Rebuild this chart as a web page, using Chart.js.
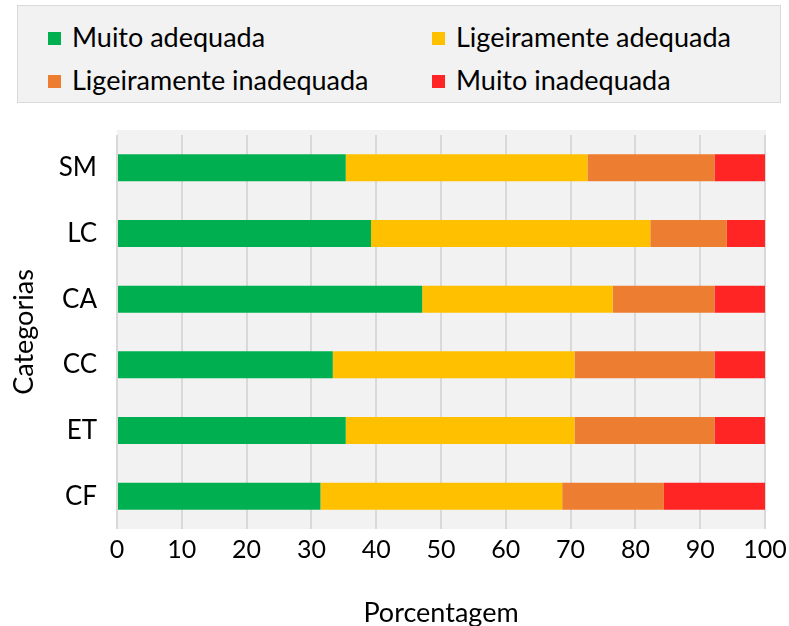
<!DOCTYPE html>
<html>
<head>
<meta charset="utf-8">
<script src="https://cdn.jsdelivr.net/npm/chart.js@4"></script>
<style>
    body { margin: 0; background: #fff; font-family: Lato, sans-serif; }
    #wrap { position: relative; width: 789px; height: 626px; }
    #legend {
        position: absolute; left: 17px; top: 5px; width: 762px; height: 96px;
        background: #f2f2f2; border: 1px solid #d9d9d9;
    }
    .item { position: absolute; font-size: 27px; color: #000; line-height: 30px; white-space: nowrap; }
    .item span { display: inline-block; width: 13px; height: 13px; margin-right: 11px; vertical-align: 2px; }
    #chartBox { position: absolute; left: 0; top: 110px; width: 789px; height: 516px; }
</style>
</head>
<body>
<div id="wrap">
    <div id="legend"></div>
    <div id="chartBox"><canvas id="stackChart"></canvas></div>
</div>
<script>
// --- Data ---
const categories = ['SM', 'LC', 'CA', 'CC', 'ET', 'CF'];
const muitoAdequada = [35.3, 39.2, 47.1, 33.3, 35.3, 31.4];
const ligAdequada = [37.3, 43.1, 29.4, 37.3, 35.3, 37.3];
const ligInadequada = [19.6, 11.8, 15.7, 21.6, 21.6, 15.7];
const muitoInadequada = [7.8, 5.9, 7.8, 7.8, 7.8, 15.7];
const seriesNames = ['Muito adequada', 'Ligeiramente adequada', 'Ligeiramente inadequada', 'Muito inadequada'];
const xTicks = [0, 10, 20, 30, 40, 50, 60, 70, 80, 90, 100];

const colors = ['#00b050', '#ffc000', '#ed7d31', '#ff2525'];
const allSeries = [muitoAdequada, ligAdequada, ligInadequada, muitoInadequada];

// legend (two columns, like the original)
const legendPos = [[30, 16], [414, 16], [30, 59], [414, 59]];
const legend = document.getElementById('legend');
seriesNames.forEach(function(name, i) {
    const d = document.createElement('div');
    d.className = 'item';
    d.style.left = legendPos[i][0] + 'px';
    d.style.top = legendPos[i][1] + 'px';
    d.innerHTML = '<span style="background:' + colors[i] + '"></span>' + name;
    legend.appendChild(d);
});

// gray plot background
const plotBg = {
    id: 'plotBg',
    beforeDraw(chart) {
        const a = chart.chartArea, c = chart.ctx;
        c.save();
        c.fillStyle = '#f2f2f2';
        c.fillRect(a.left, a.top - 5, a.right - a.left + 1, a.bottom - a.top + 5);
        c.restore();
    }
};

const ctx = document.getElementById('stackChart').getContext('2d');
new Chart(ctx, {
    type: 'bar',
    data: {
        labels: categories,
        datasets: allSeries.map(function(vals, i) {
            return {
                label: seriesNames[i],
                data: vals,
                backgroundColor: colors[i],
                borderWidth: 0,
                categoryPercentage: 0.41,
                barPercentage: 1
            };
        })
    },
    options: {
        indexAxis: 'y',
        responsive: true,
        maintainAspectRatio: false,
        animation: false,
        layout: { padding: { top: 25, right: 24, bottom: 0, left: 8 } },
        plugins: {
            legend: { display: false },
            tooltip: { enabled: false }
        },
        scales: {
            x: {
                stacked: true,
                min: 0, max: 100,
                afterBuildTicks: function(s) { s.ticks = xTicks.map(v => ({ value: v })); },
                grid: { color: '#d9d9d9', lineWidth: 2, drawTicks: false },
                border: { display: false },
                ticks: { color: '#000', font: { family: 'Lato', size: 25 }, padding: 6 },
                title: { display: true, text: 'Porcentagem', color: '#000', font: { family: 'Lato', size: 27 }, padding: { top: 16, bottom: -3 } },
                afterFit: function(s) { s.height = 97; s.paddingLeft = 0; s.paddingRight = 0; }
            },
            y: {
                stacked: true,
                grid: { display: false },
                border: { display: false },
                ticks: { color: '#000', font: { family: 'Lato', size: 26 }, padding: 12 },
                title: { display: true, text: 'Categorias', color: '#000', font: { family: 'Lato', size: 27 }, padding: { top: 0, bottom: 4 } },
                afterFit: function(s) { s.width = 109; s.paddingTop = 0; s.paddingBottom = 0; }
            }
        }
    },
    plugins: [plotBg]
});
</script>
</body>
</html>
